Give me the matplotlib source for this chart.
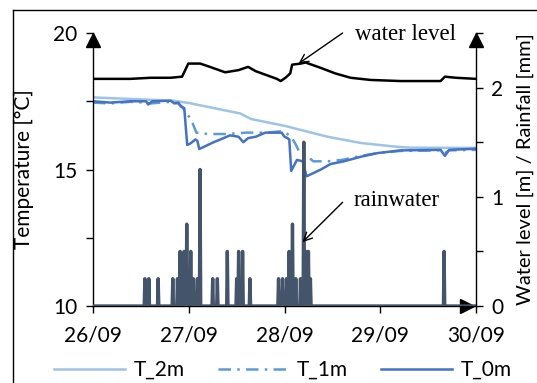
import numpy as np
import matplotlib
matplotlib.use('Agg')
import matplotlib.pyplot as plt
from matplotlib.lines import Line2D
from matplotlib.transforms import offset_copy

plt.rcParams['font.family'] = ['Lato', 'DejaVu Sans']
plt.rcParams['font.size'] = 15

# time axis: days after 26/09 00:00
day_ticks = [0, 1, 2, 3, 4]
day_labels = ['26/09', '27/09', '28/09', '29/09', '30/09']

# water level [m]
wl_t = [0.0, 0.39, 0.6, 0.81, 0.93, 0.963, 0.995, 1.12, 1.22, 1.38, 1.52, 1.62,
        1.7, 1.92, 1.96, 2.01, 2.06, 2.08, 2.17, 2.22, 2.38, 2.53, 2.69, 2.9,
        3.21, 3.63, 3.675, 3.79, 4.0]
wl_v = [2.08, 2.08, 2.09, 2.09, 2.10, 2.16, 2.22, 2.22, 2.19, 2.14, 2.16, 2.19,
        2.15, 2.08, 2.06, 2.09, 2.13, 2.21, 2.22, 2.23, 2.18, 2.13, 2.09, 2.07,
        2.06, 2.06, 2.10, 2.09, 2.08]

# T_2m [°C]
t2_t = [0.0, 0.84, 1.01, 1.54, 1.65, 2.0, 2.45, 2.8, 3.15, 3.3, 4.0]
t2_v = [17.64, 17.52, 17.43, 17.05, 16.85, 16.6, 16.2, 15.97, 15.84, 15.8, 15.79]

# T_1m [°C]
t1_t = [0.0, 0.18, 0.39, 0.555, 0.6, 0.81, 0.89, 0.93, 0.96, 1.0, 1.04, 1.08,
        1.2, 1.4, 1.6, 1.8, 1.97, 2.03, 2.07, 2.12, 2.16, 2.22, 2.3, 2.45, 2.6,
        2.8, 2.97, 3.21, 3.63, 3.675, 3.72, 4.0]
t1_v = [17.45, 17.42, 17.48, 17.45, 17.42, 17.48, 17.42, 17.3, 17.15, 16.95,
        16.7, 16.35, 16.3, 16.3, 16.35, 16.35, 16.4, 16.3, 16.2, 15.9, 15.6,
        15.55, 15.3, 15.3, 15.35, 15.5, 15.6, 15.68, 15.7, 15.6, 15.7, 15.72]

# T_0m [°C]
t0_t = [0.0, 0.18, 0.39, 0.555, 0.576, 0.62, 0.81, 0.85, 0.89, 0.92, 0.953,
        0.984, 1.016, 1.07, 1.09, 1.11, 1.17, 1.26, 1.33, 1.43, 1.52, 1.57,
        1.62, 1.70, 1.80, 1.97, 2.0, 2.03, 2.05, 2.07, 2.13, 2.19, 2.23, 2.29,
        2.38, 2.48, 2.62, 2.80, 2.97, 3.21, 3.63, 3.675, 3.72, 4.0]
t0_v = [17.5, 17.45, 17.5, 17.5, 17.38, 17.5, 17.52, 17.42, 17.45, 17.3, 17.25,
        15.9, 15.95, 16.1, 16.05, 15.75, 15.85, 16.0, 16.1, 16.25, 16.2, 16.0,
        16.15, 16.2, 16.35, 16.35, 16.2, 16.15, 16.1, 14.95, 15.35, 15.3, 14.75,
        14.85, 15.0, 15.2, 15.3, 15.47, 15.6, 15.7, 15.72, 15.5, 15.72, 15.76]

# rainfall events [mm]
rain_t = [0.54, 0.58, 0.68, 0.83, 0.88, 0.91, 0.95, 0.98, 1.02, 1.05, 1.09,
          1.12, 1.25, 1.30, 1.40, 1.50, 1.52, 1.56, 1.64, 1.94, 1.98, 2.02,
          2.05, 2.08, 2.12, 2.17, 2.20, 2.22, 2.25, 2.27, 3.67]
rain_v = [0.25, 0.25, 0.25, 0.25, 0.25, 0.5, 0.5, 0.75, 0.5, 0.25, 0.25,
          1.25, 0.25, 0.25, 0.5, 0.25, 0.5, 0.5, 0.25, 0.25, 0.25, 0.25,
          0.5, 0.75, 0.25, 0.25, 1.5, 0.5, 0.5, 0.25, 0.5]

# 10-minute rain record (zero outside the events)
rt = np.arange(0, 4 * 144 + 1) / 144
rv = np.zeros(len(rt))
rv[np.round(np.array(rain_t) * 144).astype(int)] = rain_v

fig = plt.figure(figsize=(5.37, 3.83), dpi=100)
ax = fig.add_axes([93 / 537, 1 - 306 / 383, 383 / 537, 273 / 383])
ax2 = ax.twinx()

ax.plot(t2_t, t2_v, color='#9DC3E6', lw=1.8, label='T_2m')
ax.plot(t1_t, t1_v, color='#5B9BD5', lw=1.8, ls=(0, (5, 2.5, 1, 2.5)), label='T_1m')
ax.plot(t0_t, t0_v, color='#4472C4', lw=1.8, label='T_0m')

ax2.plot(rt, rv, color='#44546A', lw=2.4)
ax2.plot(wl_t, wl_v, color='black', lw=1.8)

ax.set_xlim(0, 4)
ax.set_ylim(10, 20)
ax2.set_ylim(0, 2.5)
ax.set_xticks(day_ticks)
ax.set_xticklabels(day_labels)
ax.set_yticks([10, 12.5, 15, 17.5, 20])
ax.set_yticklabels(['10', '', '15', '', '20'])
ax2.set_yticks([0, 0.5, 1, 1.5, 2, 2.5])
ax2.set_yticklabels(['0', '', '1', '', '2', ''])

for a in (ax, ax2):
    a.tick_params(direction='out', length=5, width=1, labelsize=15)
    for s in a.spines.values():
        s.set_linewidth(1)
ax.tick_params(axis='x', pad=9)
ax.tick_params(axis='y', pad=6)
ax2.tick_params(axis='y', pad=6)
ax.spines['top'].set_visible(False)
ax.spines['right'].set_visible(False)
ax2.spines['top'].set_visible(False)
ax2.spines['left'].set_visible(False)
ax2.spines['bottom'].set_visible(False)

ax.set_ylabel('Temperature [°C]', fontsize=15)
ax.yaxis.set_label_coords(-0.154, 0.5)
ax2.set_ylabel('Water level [m] / Rainfall [mm]', fontsize=14.5)
ax2.yaxis.set_label_coords(1.105, 0.5)

# axis arrow heads
tr_up = offset_copy(ax.transAxes, fig=fig, x=0, y=-7, units='dots')
ax.plot([0, 1], [1, 1], ls='none', marker='^', ms=10.5, color='black',
        transform=tr_up, clip_on=False, zorder=5)
tr_right = offset_copy(ax.transAxes, fig=fig, x=-9, y=0, units='dots')
ax.plot([1], [0], ls='none', marker='>', ms=10.5, color='black',
        transform=tr_right, clip_on=False, zorder=5)

# annotations
ax2.annotate('', xy=(2.147, 2.22), xytext=(2.607, 2.50),
             arrowprops=dict(arrowstyle='->', color='black', lw=1,
                             shrinkA=0, shrinkB=0), annotation_clip=False)
ax2.text(2.74, 2.49, 'water level', family='Liberation Serif', fontsize=16.5,
         ha='left', va='center')
ax2.annotate('', xy=(2.188, 0.585), xytext=(2.607, 0.95),
             arrowprops=dict(arrowstyle='->', color='black', lw=1,
                             shrinkA=0, shrinkB=0))
ax2.text(2.72, 0.97, 'rainwater', family='Liberation Serif', fontsize=16.5,
         ha='left', va='center')

fig.legend(loc='center', bbox_to_anchor=(283 / 537, 1 - 370 / 383), ncol=3,
           frameon=False, fontsize=15, handlelength=3.4, handletextpad=0.4,
           columnspacing=1.6)

# outer frame
fig.add_artist(Line2D([13 / 537, 13 / 537], [0, 1 - 10 / 383], color='black',
                      lw=1, transform=fig.transFigure))
fig.add_artist(Line2D([13 / 537, 1], [1 - 10 / 383, 1 - 10 / 383],
                      color='black', lw=1, transform=fig.transFigure))

fig.savefig('out.png', dpi=100)
